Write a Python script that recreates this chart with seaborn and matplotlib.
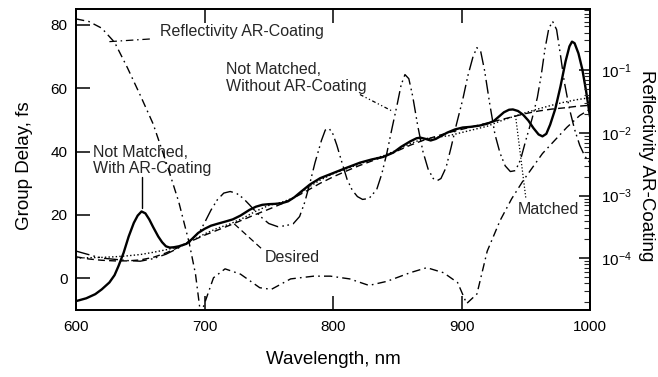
import numpy as np
import pandas as pd
import matplotlib
matplotlib.use("Agg")
import matplotlib.pyplot as plt
import seaborn as sns

# ---------------- data ----------------
# Not Matched, With AR-Coating (solid)
wl_with = [600, 608, 615, 620, 626, 630, 633, 637, 641, 645, 648, 651, 654, 657, 660, 664, 667, 670,
           673, 676, 680, 686, 690, 695, 700, 705, 710, 717, 722, 728, 735, 740, 745, 750, 755, 760,
           765, 770, 775, 782, 790, 800, 810, 821, 830, 839, 847, 853, 860, 865, 868, 872, 876, 880,
           889, 895, 901, 907, 914, 920, 925, 929, 933, 937, 940, 944, 948, 952, 956, 960, 963, 966,
           969, 973, 977, 981, 984, 986, 988, 991, 994, 997, 1000]
gd_with = [-7.2, -6.3, -5.0, -3.5, -1.3, 1.0, 3.8, 8.0, 13.2, 17.5, 19.8, 21.1, 20.5, 18.6, 16.2, 13.2,
           11.4, 10.1, 9.7, 9.8, 10.1, 10.9, 12.3, 14.3, 15.6, 16.6, 17.2, 18.0, 18.6, 19.8, 21.6, 22.6,
           23.2, 23.4, 23.5, 23.7, 24.3, 25.6, 27.3, 29.6, 31.6, 33.2, 34.8, 36.5, 37.5, 38.3, 39.7, 41.5,
           43.2, 44.2, 44.4, 44.0, 43.5, 44.0, 46.0, 47.0, 47.6, 47.8, 48.2, 48.8, 49.6, 51.0, 52.4, 53.2,
           53.3, 52.8, 51.6, 49.8, 47.4, 45.4, 44.8, 45.6, 48.5, 53.5, 60.5, 68.5, 73.2, 74.7, 74.2,
           71.0, 66.0, 59.0, 51.0]

# Desired (dashed)
wl_des = [600, 610, 620, 630, 640, 650, 660, 670, 680, 690, 700, 710, 720, 730, 740, 750, 760, 770,
          780, 790, 800, 810, 820, 830, 840, 850, 860, 870, 880, 890, 900, 910, 920, 930, 940, 950,
          960, 970, 980, 990, 1000]
gd_des = [6.8, 6.1, 5.7, 5.5, 5.5, 5.8, 6.6, 8.0, 9.8, 11.8, 13.6, 15.2, 16.8, 18.5, 20.2, 21.8, 23.5,
          25.5, 27.7, 30.0, 32.0, 33.8, 35.5, 37.0, 38.5, 40.2, 42.0, 43.5, 44.8, 46.0, 47.0, 48.0, 49.0,
          50.0, 51.0, 52.0, 52.8, 53.4, 53.8, 54.3, 54.6]

# Matched (dotted)
wl_mat = [600, 610, 620, 630, 640, 650, 660, 670, 680, 690, 700, 710, 720, 730, 740, 750, 760, 770,
          780, 790, 800, 810, 820, 830, 840, 850, 860, 870, 880, 890, 900, 910, 920, 930, 940, 950,
          960, 970, 980, 990, 1000]
gd_mat = [6.4, 6.5, 6.6, 6.8, 7.1, 7.5, 8.2, 9.0, 10.0, 11.8, 14.0, 15.8, 17.2, 19.0, 21.2, 23.0, 24.0,
          25.5, 28.5, 31.0, 33.0, 34.5, 36.0, 37.5, 38.8, 40.5, 42.5, 44.0, 44.5, 45.0, 46.0, 47.0, 48.0,
          49.6, 51.0, 52.3, 53.5, 54.6, 55.6, 56.4, 57.0]

# Not Matched, Without AR-Coating (large oscillations)
wl_wo = [600, 607, 615, 622, 630, 640, 650, 660, 670, 678, 685, 690, 696, 700, 705, 710, 715, 720, 725,
         730, 735, 740, 745, 750, 757, 763, 769, 774, 778, 782, 786, 791, 794, 797, 800, 803, 807, 811,
         815, 819, 823, 828, 834, 838, 842, 846, 850, 853, 856, 859, 862, 866, 870, 874, 878, 881, 884,
         888, 892, 896, 901, 905, 909, 912, 915, 918, 922, 926, 930, 934, 938, 942, 946, 950, 955, 959,
         962, 965, 968, 971, 974, 977, 980, 984, 988, 992, 996, 1000]
gd_wo = [8.6, 7.8, 6.9, 6.3, 6.0, 5.6, 5.4, 6.2, 7.6, 9.2, 10.8, 12.3, 14.5, 17.5, 21.5, 24.8, 26.9, 27.4,
         26.8, 25.3, 23.2, 21.0, 19.0, 17.3, 16.3, 16.6, 17.2, 19.5, 24.0, 30.0, 36.5, 43.5, 46.8, 47.3,
         45.5, 42.0, 36.5, 31.2, 27.8, 25.8, 24.9, 25.2, 28.0, 33.0, 39.7, 47.5, 55.0, 61.0, 64.3, 63.0,
         57.5, 48.0, 40.0, 34.5, 31.5, 30.8, 31.5, 35.0, 41.5, 48.5, 56.5, 64.0, 70.0, 72.8, 71.5, 65.5,
         55.0, 45.5, 39.5, 35.5, 33.7, 34.0, 37.5, 43.5, 50.5, 57.0, 64.0, 72.5, 79.0, 81.0, 78.5, 70.5,
         62.0, 53.5, 47.0, 42.0, 38.5, 36.5]

# Reflectivity of the AR coating (right, log axis)
wl_refl = [600, 610, 620, 630, 640, 650, 660, 670, 680, 688, 693, 697, 700, 707, 716, 728, 743, 752,
           767, 785, 798, 813, 828, 842, 860, 873, 886, 897, 904, 912, 920, 930, 939, 948, 963, 982,
           992, 1000]
refl = [0.66, 0.60, 0.47, 0.28, 0.11, 0.040, 0.014, 3.5e-3, 7.9e-4, 1.8e-4, 5.6e-5, 1.26e-5, 1.9e-5,
        4.9e-5, 6.8e-5, 5.6e-5, 3.4e-5, 3.2e-5, 4.7e-5, 5.2e-5, 5.2e-5, 4.7e-5, 3.7e-5, 4.3e-5, 5.9e-5,
        7.1e-5, 5.9e-5, 4.1e-5, 1.9e-5, 2.7e-5, 1.3e-4, 4.0e-4, 8.9e-4, 1.74e-3, 4.7e-3, 1.23e-2,
        1.9e-2, 2.4e-2]

x_ticks = [600, 700, 800, 900, 1000]
y_ticks = [0, 20, 40, 60, 80]
r_ticks = [1e-1, 1e-2, 1e-3, 1e-4]
r_ticklabels = [r"$10^{-1}$", r"$10^{-2}$", r"$10^{-3}$", r"$10^{-4}$"]

# ---------------- style ----------------
sns.set_theme(style="ticks")
plt.rcParams["font.family"] = ["Liberation Sans", "DejaVu Sans"]
plt.rcParams["mathtext.fontset"] = "custom"
plt.rcParams["mathtext.rm"] = "Liberation Sans"
plt.rcParams["mathtext.it"] = "Liberation Sans:italic"
plt.rcParams["mathtext.bf"] = "Liberation Sans:bold"
plt.rcParams["axes.edgecolor"] = "black"
plt.rcParams["axes.linewidth"] = 1.3

fig = plt.figure(figsize=(6.58, 3.77), dpi=100)
ax = fig.add_axes([76 / 658, 1 - 310 / 377, 514 / 658, 301 / 377])

def frame(x, y):
    return pd.DataFrame({"wl": x, "val": y})

LS_WO = (0, (10, 3, 1.2, 2.5, 1.2, 3))
LS_REFL = (0, (6, 3, 1.2, 3))

sns.lineplot(data=frame(wl_des, gd_des), x="wl", y="val", ax=ax, color="black",
             lw=1.0, linestyle=(0, (5, 3)), estimator=None, sort=False)
sns.lineplot(data=frame(wl_mat, gd_mat), x="wl", y="val", ax=ax, color="black",
             lw=1.0, linestyle=(0, (1, 1.6)), estimator=None, sort=False)
sns.lineplot(data=frame(wl_wo, gd_wo), x="wl", y="val", ax=ax, color="black",
             lw=1.0, linestyle=LS_WO, estimator=None, sort=False)
sns.lineplot(data=frame(wl_with, gd_with), x="wl", y="val", ax=ax, color="black",
             lw=1.7, linestyle="-", estimator=None, sort=False)

ax.set_xlim(600, 1000)
ax.set_ylim(-10, 85)
ax.set_xticks(x_ticks)
ax.set_yticks(y_ticks)
ax.tick_params(axis="both", which="major", direction="in", length=10, width=1.1,
               labelsize=11, colors="black", pad=6)
ax.tick_params(axis="x", top=True, labeltop=False, pad=7)
ax.tick_params(axis="y", right=False)
ax.set_xlabel("Wavelength, nm", fontsize=13.5, color="black")
ax.set_ylabel("Group Delay, fs", fontsize=13.5, color="black")
ax.xaxis.set_label_coords(0.5, -0.135)
ax.yaxis.label.set_va("center")
ax.yaxis.set_label_coords(-0.101, 0.48)

ax2 = ax.twinx()
sns.lineplot(data=frame(wl_refl, refl), x="wl", y="val", ax=ax2, color="black",
             lw=1.0, linestyle=LS_REFL, estimator=None, sort=False)
ax2.set_yscale("log")
ax2.set_ylim(1.5e-5, 0.95)
ax2.set_xlim(600, 1000)
ax2.set_yticks(r_ticks)
ax2.set_yticklabels(r_ticklabels)
ax2.yaxis.set_minor_locator(matplotlib.ticker.LogLocator(base=10, subs=np.arange(2, 10)))
ax2.yaxis.set_minor_formatter(matplotlib.ticker.NullFormatter())
ax2.tick_params(axis="y", which="major", direction="in", length=8, width=1.1,
                labelsize=11, colors="black", pad=8)
ax2.tick_params(axis="y", which="minor", direction="in", length=4, width=0.8)
ax2.set_ylabel("Reflectivity AR-Coating", fontsize=13.5, rotation=270, color="black")
ax2.yaxis.label.set_va("center")
ax2.yaxis.set_label_coords(1.11, 0.48)
for sp in ax2.spines.values():
    sp.set_linewidth(1.3)
    sp.set_color("black")

# ---------------- annotations ----------------
fs = 11.5
ax.text(665, 77.8, "Reflectivity AR-Coating", fontsize=fs, va="center", ha="left")
ax.plot([626, 660], [74.7, 75.6], color="black", lw=0.9, linestyle=LS_REFL)

ax.text(613, 37.2, "Not Matched,\nWith AR-Coating", fontsize=fs, va="center", ha="left",
        linespacing=1.1)
ax.plot([651, 651], [32, 22.3], color="black", lw=1.0, linestyle="-")

ax.text(716.5, 63.2, "Not Matched,\nWithout AR-Coating", fontsize=fs, va="center", ha="left",
        linespacing=1.1)
ax.plot([821, 847], [58, 52.6], color="black", lw=0.9, linestyle=(0, (3, 2, 1, 2, 1, 2)))

ax.text(747, 6.6, "Desired", fontsize=fs, va="center", ha="left")
ax.plot([744, 722], [9.5, 17.6], color="black", lw=0.9, linestyle=(0, (5, 3)))

ax.text(944, 21.7, "Matched", fontsize=fs, va="center", ha="left")
ax.plot([950, 942], [25.5, 51.5], color="black", lw=0.9, linestyle=(0, (1, 1.6)))

fig.savefig("out.png", dpi=100)
